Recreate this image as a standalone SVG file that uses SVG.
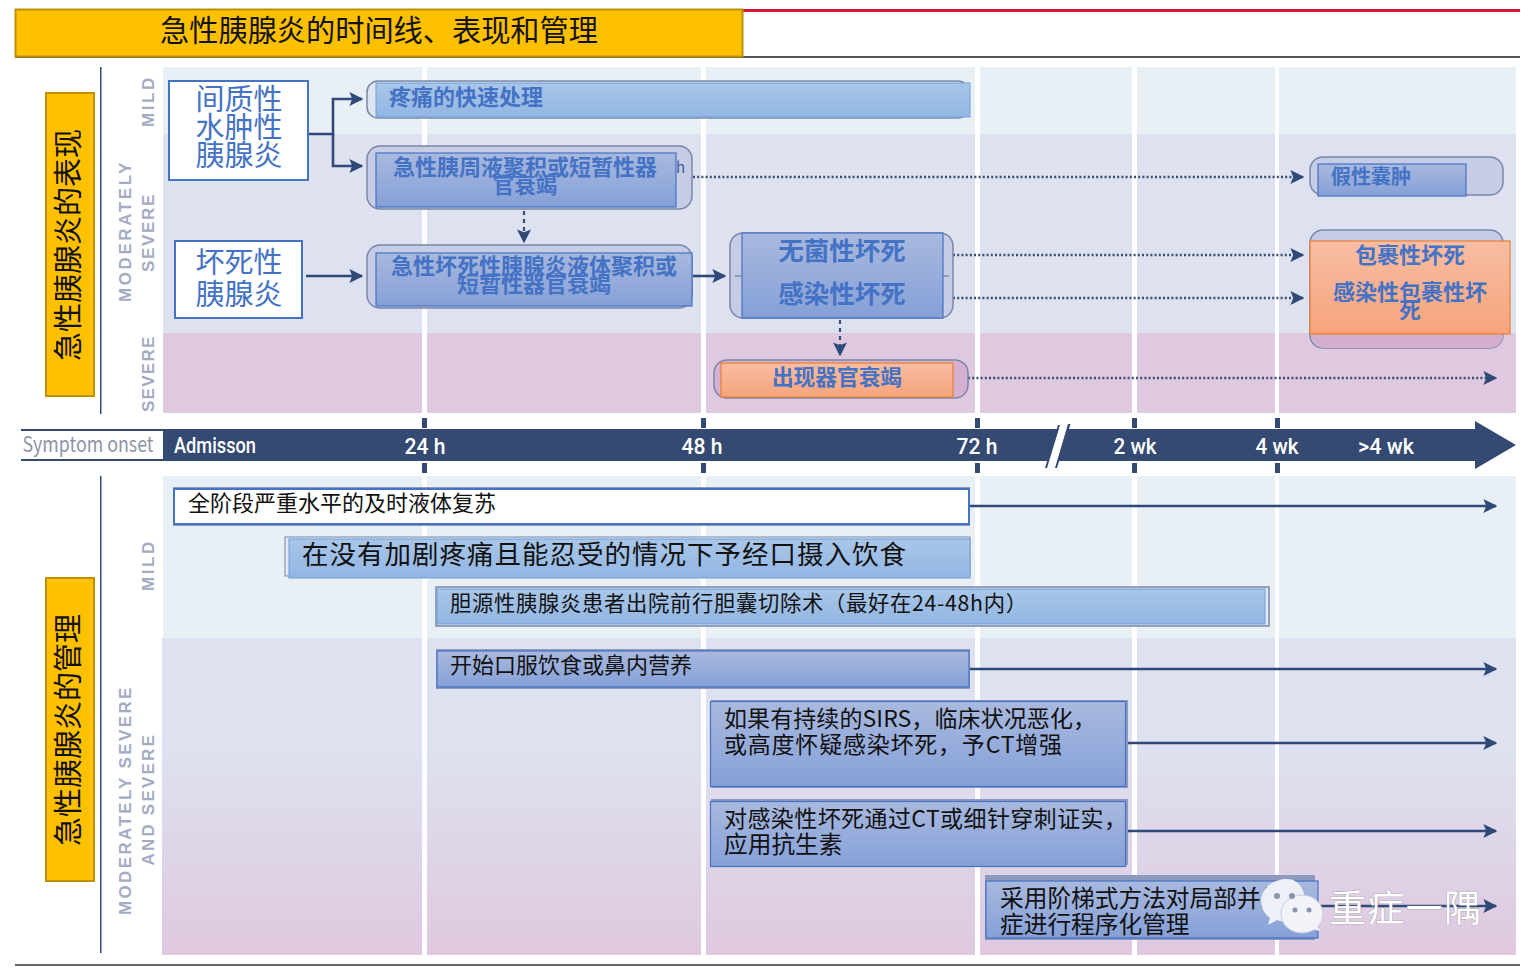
<svg xmlns="http://www.w3.org/2000/svg" width="1532" height="977" viewBox="0 0 1532 977">
<style>
text{font-family:"Noto Sans CJK SC","Noto Sans",sans-serif}
.blue{fill:#4472c4;font-weight:700}
.lab{fill:#4472c4}
.blk{fill:#111}
.mid{text-anchor:middle}
.sev{fill:#a4abc2;font-size:17px;letter-spacing:2.6px;font-family:"Liberation Sans",sans-serif;font-weight:700;text-anchor:middle}
.tl{fill:#fff;font-size:22px;font-weight:500;text-anchor:middle;font-family:"Roboto",sans-serif}
.pill{fill:#c6cce5;stroke:#7b86a8;stroke-width:1.5}
.box{stroke:#4472c4;stroke-width:1.2}
.shadow{fill:#8d99bd}
.ln{fill:none;stroke:#2f4a78;stroke-width:2.6}
.dot{fill:none;stroke:#3a4d75;stroke-width:2.6;stroke-dasharray:2 2.2}
.dash{fill:none;stroke:#3a4d75;stroke-width:2.2;stroke-dasharray:4 4}
</style>
<defs>
<linearGradient id="gb" x1="0" y1="0" x2="0" y2="1"><stop offset="0" stop-color="#a9b9de"/><stop offset="1" stop-color="#85a0d8"/></linearGradient>
<linearGradient id="gl" x1="0" y1="0" x2="0" y2="1"><stop offset="0" stop-color="#a8c6e8"/><stop offset="1" stop-color="#92b6e3"/></linearGradient>
<linearGradient id="go" x1="0" y1="0" x2="0" y2="1"><stop offset="0" stop-color="#f7bda2"/><stop offset="1" stop-color="#f7a47c"/></linearGradient>
<linearGradient id="gband" x1="0" y1="0" x2="0" y2="1"><stop offset="0" stop-color="#dde1f0"/><stop offset="0.35" stop-color="#dde1f0"/><stop offset="1" stop-color="#dfc8e0"/></linearGradient>
<marker id="a" viewBox="0 0 10 10" refX="9" refY="5" markerWidth="14" markerHeight="15" markerUnits="userSpaceOnUse" orient="auto"><path d="M0 0L10 5L0 10L2 5Z" fill="#2f4a78"/></marker>
</defs>
<rect width="1532" height="977" fill="#fff"/>

<g id="header">
<rect x="742" y="9" width="778" height="3" fill="#d5153a"/>
<rect x="15" y="56" width="1505" height="2" fill="#555"/>
<rect x="15.500" y="9.500" width="727" height="47" fill="#ffc000" stroke="#bf9000" stroke-width="2"/>
<text x="379" y="41" class="blk mid" font-size="29.200">急性胰腺炎的时间线、表现和管理</text>
<rect x="15" y="964" width="1505" height="2" fill="#666"/>
</g>

<g id="bands">
<rect x="163" y="67" width="1353" height="67" fill="#e8f0f6"/>
<rect x="163" y="134" width="1353" height="199" fill="#dde1f0"/>
<rect x="163" y="333" width="1353" height="80" fill="#dfc9e1"/>
<rect x="163" y="476" width="1353" height="162" fill="#e8f0f6"/>
<rect x="162" y="638" width="1354" height="317" fill="url(#gband)"/>
<g fill="#fff">
<rect x="422" y="67" width="5" height="346"/><rect x="701" y="67" width="5" height="346"/><rect x="975" y="67" width="5" height="346"/><rect x="1132" y="67" width="5" height="346"/><rect x="1275" y="67" width="4" height="346"/>
<rect x="422" y="476" width="5" height="479"/><rect x="701" y="476" width="5" height="479"/><rect x="975" y="476" width="5" height="479"/><rect x="1132" y="476" width="5" height="479"/><rect x="1275" y="476" width="4" height="479"/>
</g>
<rect x="100" y="67" width="1.500" height="347" fill="#2f4a78"/>
<rect x="100" y="476" width="1.500" height="477" fill="#2f4a78"/>
<text class="sev" transform="translate(154 101) rotate(-90)" textLength="52">MILD</text>
<text class="sev" transform="translate(131 231) rotate(-90)" textLength="142">MODERATELY</text>
<text class="sev" transform="translate(154 232) rotate(-90)" textLength="80">SEVERE</text>
<text class="sev" transform="translate(154 373) rotate(-90)" textLength="78">SEVERE</text>
<text class="sev" transform="translate(154 565) rotate(-90)" textLength="52">MILD</text>
<text class="sev" transform="translate(131 800) rotate(-90)" textLength="230">MODERATELY SEVERE</text>
<text class="sev" transform="translate(154 799) rotate(-90)" textLength="133">AND SEVERE</text>
</g>

<g id="side-manifest">
<rect x="46" y="93" width="48" height="303" fill="#ffc000" stroke="#bf9000" stroke-width="2"/>
<text transform="translate(79 245) rotate(-90)" class="blk mid" font-size="29">急性胰腺炎的表现</text>
</g>
<g id="side-manage">
<rect x="46" y="578" width="48" height="303" fill="#ffc000" stroke="#bf9000" stroke-width="2"/>
<text transform="translate(79 730) rotate(-90)" class="blk mid" font-size="29">急性胰腺炎的管理</text>
</g>

<g id="timeline">
<path d="M21 429H1475V421L1516 445L1475 469V461H21Z" fill="#344a72"/>
<rect x="21" y="431" width="142" height="28" fill="#fff"/>
<g fill="#344a72"><rect x="422" y="418" width="5" height="10"/><rect x="422" y="463" width="5" height="10"/><rect x="701" y="418" width="5" height="10"/><rect x="701" y="463" width="5" height="10"/><rect x="975" y="418" width="5" height="10"/><rect x="975" y="463" width="5" height="10"/><rect x="1132" y="418" width="5" height="10"/><rect x="1132" y="463" width="5" height="10"/><rect x="1275" y="418" width="5" height="10"/><rect x="1275" y="463" width="5" height="10"/></g>
<path d="M1060 425L1070 424L1056 468L1046 468Z" fill="#fff"/>
<path d="M1058 425H1060L1047 468H1045Z M1068 424H1070.500L1057 468H1055Z" fill="#344a72"/>
<text x="88" y="452" text-anchor="middle" font-size="21" fill="#8d93a8" font-family="Roboto,sans-serif" textLength="131" lengthAdjust="spacingAndGlyphs">Symptom onset</text>
<text x="215" y="453" class="tl" textLength="82" lengthAdjust="spacingAndGlyphs">Admisson</text>
<text x="425" y="454" class="tl" textLength="41" lengthAdjust="spacingAndGlyphs">24 h</text>
<text x="702" y="454" class="tl" textLength="41" lengthAdjust="spacingAndGlyphs">48 h</text>
<text x="977" y="454" class="tl" textLength="41" lengthAdjust="spacingAndGlyphs">72 h</text>
<text x="1135" y="454" class="tl" textLength="43" lengthAdjust="spacingAndGlyphs">2 wk</text>
<text x="1277" y="454" class="tl" textLength="43" lengthAdjust="spacingAndGlyphs">4 wk</text>
<text x="1386" y="454" class="tl" textLength="56" lengthAdjust="spacingAndGlyphs">&gt;4 wk</text>
</g>

<g id="connectors">
<path class="ln" d="M308 134H333V99H362" marker-end="url(#a)"/>
<path class="ln" d="M333 134V166H362" marker-end="url(#a)"/>
<path class="ln" d="M306 276H362" marker-end="url(#a)"/>
<path class="ln" d="M693 276H725" marker-end="url(#a)"/>
<path class="dash" d="M524 211V242" marker-end="url(#a)"/>
<path class="dash" d="M840 320V355" marker-end="url(#a)"/>
<path class="dot" d="M693 177H1303" marker-end="url(#a)"/>
<path class="dot" d="M953 255H1303" marker-end="url(#a)"/>
<path class="dot" d="M953 298H1303" marker-end="url(#a)"/>
<path class="dot" d="M968 378H1496" marker-end="url(#a)"/>
<path class="ln" d="M970 506H1496" marker-end="url(#a)"/>
<path class="ln" d="M970 669H1496" marker-end="url(#a)"/>
<path class="ln" d="M1127 743H1496" marker-end="url(#a)"/>
<path class="ln" d="M1127 831H1496" marker-end="url(#a)"/>
<path class="ln" d="M1318 906H1496" marker-end="url(#a)"/>
</g>

<g id="n-interstitial">
<rect x="169" y="81" width="139" height="99" fill="#fff" stroke="#4472c4" stroke-width="2"/>
<g class="lab mid" font-size="29"><text x="239" y="110">间质性</text><text x="239" y="138">水肿性</text><text x="239" y="166">胰腺炎</text></g>
</g>
<g id="n-necrotizing">
<rect x="175" y="241" width="127" height="77" fill="#fff" stroke="#4472c4" stroke-width="2"/>
<g class="lab mid" font-size="29"><text x="239" y="273">坏死性</text><text x="239" y="305">胰腺炎</text></g>
</g>
<g id="n-pain">
<rect x="367" y="81" width="602" height="37" rx="11" fill="#dbe6f2" stroke="#7b86a8" stroke-width="1.500"/>
<rect x="376" y="83" width="594" height="34" fill="url(#gl)" stroke="#6fa0d8"/>
<text x="389" y="105" class="blue" font-size="22">疼痛的快速处理</text>
</g>
<g id="n-apfc">
<rect x="367" y="146" width="325" height="63" rx="13" class="pill"/>
<rect x="376" y="153" width="300" height="54" fill="url(#gb)" class="box"/>
<text x="676" y="173" fill="#3a5f9e" font-size="15">h</text>
<text x="525" y="175" class="blue mid" font-size="22" textLength="264" lengthAdjust="spacingAndGlyphs">急性胰周液聚积或短暂性器</text>
<text x="525" y="193" class="blue mid" font-size="21.500">官衰竭</text>
</g>
<g id="n-anc">
<rect x="367" y="245" width="325" height="63" rx="13" class="pill"/>
<rect x="376" y="253" width="316" height="53" fill="url(#gb)" class="box"/>
<text x="534" y="274" class="blue mid" font-size="22" textLength="286" lengthAdjust="spacingAndGlyphs">急性坏死性胰腺炎液体聚积或</text>
<text x="534" y="292" class="blue mid" font-size="22">短暂性器官衰竭</text>
</g>
<g id="n-necrosis">
<rect x="730" y="233" width="223" height="85" rx="13" class="pill"/>
<path d="M735 276H742M943 276H949" stroke="#5a6a90" stroke-width="1"/>
<rect x="742" y="233" width="201" height="85" fill="url(#gb)" class="box"/>
<text x="842" y="260" class="blue mid" font-size="25.500">无菌性坏死</text>
<text x="842" y="303" class="blue mid" font-size="25.500">感染性坏死</text>
</g>
<g id="n-pseudocyst">
<rect x="1310" y="157" width="193" height="38" rx="13" class="pill"/>
<rect x="1318" y="164" width="148" height="32" fill="url(#gb)" class="box"/>
<text x="1371" y="184" class="blue mid" font-size="20">假性囊肿</text>
</g>
<g id="n-won">
<rect x="1310" y="230" width="193" height="118" rx="13" fill="#c6cce5" stroke="#7b86a8" stroke-width="1.500"/>
<path d="M1311 333H1503V335A13 13 0 0 1 1490 348H1323A13 13 0 0 1 1311 335Z" fill="#d3aecd"/>
<rect x="1310" y="241" width="200" height="93" fill="url(#go)" stroke="#ed7d31" stroke-width="1.200"/>
<text x="1410" y="263" class="blue mid" font-size="22">包裹性坏死</text>
<text x="1410" y="300" class="blue mid" font-size="22">感染性包裹性坏</text>
<text x="1410" y="318" class="blue mid" font-size="22">死</text>
</g>
<g id="n-organ">
<rect x="714" y="360" width="254" height="38" rx="13" fill="#d6b0d0" stroke="#7b86a8" stroke-width="1.500"/>
<rect x="721" y="363" width="232" height="34" fill="url(#go)" stroke="#ed7d31" stroke-width="1.200"/>
<text x="837" y="385" class="blue mid" font-size="21.700">出现器官衰竭</text>
</g>

<g id="n-fluid">
<rect x="173" y="487" width="797" height="39" fill="#8d99bd"/>
<rect x="174" y="489" width="795" height="35" fill="#fff" stroke="#4472c4" stroke-width="2"/>
<text x="188" y="511" class="blk" font-size="22">全阶段严重水平的及时液体复苏</text>
</g>
<g id="n-oral">
<rect x="285" y="537" width="685" height="39" fill="#dfeaf5" stroke="#7b86a8"/>
<rect x="289" y="539" width="681" height="39" fill="url(#gl)" stroke="#6fa0d8"/>
<text x="302" y="564" class="blk" font-size="26.500" textLength="604">在没有加剧疼痛且能忍受的情况下予经口摄入饮食</text>
</g>
<g id="n-chole">
<rect x="436" y="587" width="833" height="39" fill="#dfeaf5" stroke="#7b86a8" stroke-width="1.500"/>
<rect x="437" y="589" width="828" height="35" fill="url(#gl)" stroke="#6fa0d8"/>
<text x="450" y="611" class="blk" font-size="21.300" textLength="577">胆源性胰腺炎患者出院前行胆囊切除术（最好在24-48h内）</text>
</g>
<g id="n-nutrition">
<rect x="436" y="649" width="534" height="40" class="shadow"/>
<rect x="437" y="651" width="532" height="36" fill="url(#gb)" class="box"/>
<text x="450" y="673" class="blk" font-size="22">开始口服饮食或鼻内营养</text>
</g>
<g id="n-sirs">
<rect x="711" y="700" width="417" height="88" class="shadow"/>
<rect x="710.500" y="701.500" width="415" height="85" fill="url(#gb)" class="box"/>
<text x="724" y="727" class="blk" font-size="23" textLength="372">如果有持续的SIRS，临床状况恶化，</text>
<text x="724" y="753" class="blk" font-size="23" textLength="338">或高度怀疑感染坏死，予CT增强</text>
</g>
<g id="n-antibiotic">
<rect x="711" y="799" width="417" height="66" class="shadow"/>
<rect x="710.500" y="801.500" width="415" height="65" fill="url(#gb)" class="box"/>
<text x="724" y="827" class="blk" font-size="23" textLength="403">对感染性坏死通过CT或细针穿刺证实，</text>
<text x="724" y="853" class="blk" font-size="23.700">应用抗生素</text>
</g>
<g id="n-step">
<rect x="985" y="875" width="330" height="65" class="shadow"/>
<rect x="986" y="881" width="332" height="57" fill="url(#gb)" class="box"/>
<text x="1000" y="907" class="blk" font-size="23.700">采用阶梯式方法对局部并发</text>
<text x="1000" y="933" class="blk" font-size="23.700">症进行程序化管理</text>
</g>
<g id="watermark">
<path d="M1287 879C1272 879 1261 889 1261 901C1261 908 1265 914 1270 918L1268 925L1277 920C1285 923 1295 922 1300 917C1310 905 1305 879 1287 879Z" fill="#eef0f7"/>
<ellipse cx="1302" cy="914" rx="21" ry="19" fill="#f2f3f9" stroke="#c8cbe0"/>
<path d="M1312 929L1320 931L1316 922Z" fill="#f2f3f9"/>
<circle cx="1277" cy="896" r="3" fill="#8a93ad"/><circle cx="1292" cy="896" r="3" fill="#8a93ad"/>
<circle cx="1295" cy="910" r="2.500" fill="#8a93ad"/><circle cx="1309" cy="910" r="2.500" fill="#8a93ad"/>
<text x="1329" y="922" font-size="37" fill="#fff" stroke="#8d8d8d" stroke-width="0.600" paint-order="stroke" textLength="152">重症一隅</text>
</g>
</svg>
